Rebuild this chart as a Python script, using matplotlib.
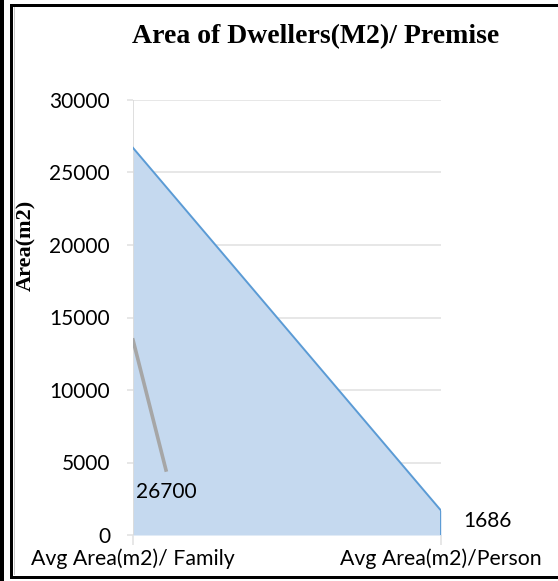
import matplotlib.pyplot as plt
from matplotlib.patches import Rectangle

categories = ['Avg Area(m2)/ Family', 'Avg Area(m2)/Person']
areas = [26700, 1686]
y_ticks = [0, 5000, 10000, 15000, 20000, 25000, 30000]

fig = plt.figure(figsize=(5.58, 5.81), dpi=100)
W, H = 558, 581

# page borders (double rule on the left, single rules top and bottom)
def px_rect(x0, y0, x1, y1, color='black'):
    fig.patches.append(Rectangle((x0 / W, 1 - y1 / H), (x1 - x0) / W, (y1 - y0) / H,
                                 transform=fig.transFigure, facecolor=color,
                                 edgecolor='none', zorder=10))

px_rect(0, 0, 3.5, 581)
px_rect(10, 4, 13, 579)
px_rect(10, 4, 558, 6.5)
px_rect(10, 576, 558, 579)
px_rect(14, 7, 15, 575, color='#c8c8c8')

ax = fig.add_axes([133 / W, 1 - 535 / H, (441 - 133) / W, (535 - 100) / H])
x = list(range(len(categories)))

ax.fill_between(x, areas, 0, color='#c5d9ef', linewidth=0, zorder=2)
ax.plot(x + [x[-1]], areas + [0], color='#5b9bd5', linewidth=1.4, zorder=3)

ax.set_xlim(x[0], x[-1])
ax.set_ylim(y_ticks[0], y_ticks[-1])
ax.set_yticks(y_ticks)
ax.set_xticks(x)
ax.set_xticklabels(categories)
ax.grid(axis='y', color='#e3e3e3', linewidth=1.2, zorder=1)
ax.set_axisbelow(True)
for s in ax.spines.values():
    s.set_visible(False)
ax.axvline(x[0], color='#d9d9d9', linewidth=1.2, zorder=2.5)
ax.tick_params(axis='y', length=4.5, color='#e3e3e3', width=1.2, labelsize=15, pad=12)
ax.tick_params(axis='x', length=7, color='#e3e3e3', width=1.2, labelsize=15.3, pad=3)
for lab in ax.get_xticklabels() + ax.get_yticklabels():
    lab.set_fontfamily('Lato')

# data labels with leader line
ax.plot([0.0, 0.107], [13450, 4485], color='#a6a6a6', linewidth=2.6, zorder=4)
ax.text(0.01, 2966, f'{areas[0]}', fontsize=15, family='Lato', va='center', ha='left', zorder=5)
ax.text(1.071, 966, f'{areas[1]}', fontsize=15, family='Lato', va='center', ha='left',
        clip_on=False, zorder=5)

fig.text(316 / W, 1 - 37 / H, 'Area of Dwellers(M2)/ Premise', fontsize=20,
         family='Liberation Serif', fontweight='bold', ha='center', va='center')
fig.text(26 / W, 1 - 245 / H, 'Area(m2)', fontsize=16, family='Liberation Serif',
         fontweight='bold', rotation=90, ha='center', va='center')

fig.savefig('out.png', dpi=100)
